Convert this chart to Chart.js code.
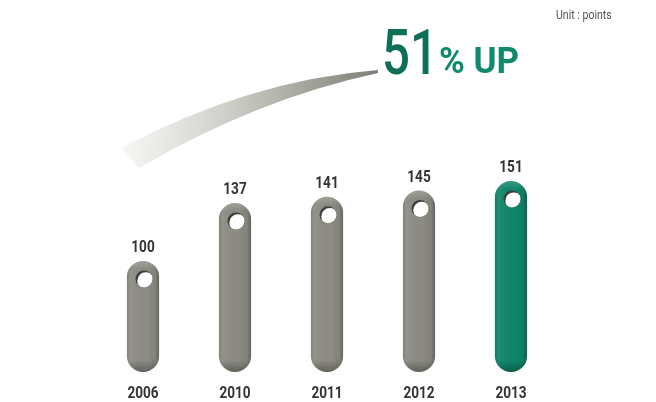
<!DOCTYPE html>
<html>
<head>
<meta charset="utf-8">
<script src="https://cdn.jsdelivr.net/npm/chart.js@4.4.1/dist/chart.umd.min.js"></script>
<style>
  html, body { margin: 0; padding: 0; background: #fff; }
  #wrap { position: relative; width: 656px; height: 402px; overflow: hidden; }
  #myChart { position: absolute; left: 0; top: 0; }
  .narrow { font-family: Roboto, 'Liberation Sans', sans-serif; transform-origin: 0 0; white-space: nowrap; line-height: 1; }
  #unit { position: absolute; left: 556px; top: 9px; font-size: 12px; color: #555; transform: scaleX(0.88); }
  #big { position: absolute; left: 382px; top: 21px; font-size: 63px; font-weight: 500; color: #0d6f58; transform: scaleX(0.78); }
  #small { position: absolute; left: 439px; top: 43px; font-size: 36px; font-weight: bold; color: #108a6d; transform: scaleX(0.97); }
</style>
</head>
<body>
<div id="wrap">
  <canvas id="myChart" width="656" height="402"></canvas>
  <div id="unit" class="narrow">Unit : points</div>
  <div id="big" class="narrow">51</div>
  <div id="small" class="narrow">% UP</div>
</div>
<script>
const years = ['2006', '2010', '2011', '2012', '2013'];
const points = [100, 137, 141, 145, 151];
const barColors = ['#8d8c84', '#8d8c84', '#8d8c84', '#8d8c84', '#10876c'];
const yMin = 29;
const yMax = 160;

const labelFont = "bold 17px Roboto, 'Liberation Sans', sans-serif";

// draw condensed text (no narrow font installed, so squeeze it)
function narrowText(ctx, text, x, y) {
    ctx.save();
    ctx.translate(x, y);
    ctx.scale(0.8, 1);
    ctx.fillText(text, 0, 0);
    ctx.restore();
}

// curved swoosh behind the "51% UP" text
const swooshPlugin = {
    id: 'swoosh',
    beforeDraw(chart) {
        const ctx = chart.ctx;
        ctx.save();
        const g = ctx.createLinearGradient(120, 0, 378, 0);
        g.addColorStop(0, 'rgba(245,245,243,0.8)');
        g.addColorStop(0.45, '#cacac4');
        g.addColorStop(1, '#7f7f76');
        ctx.fillStyle = g;
        ctx.beginPath();
        ctx.moveTo(121, 148);
        ctx.quadraticCurveTo(250, 80, 378, 70);
        ctx.lineTo(378, 73);
        ctx.quadraticCurveTo(257, 99, 139, 168);
        ctx.closePath();
        ctx.fill();
        ctx.restore();
    }
};

// bevel shading, hole, value label and year label for each bar
const barDecor = {
    id: 'barDecor',
    afterDatasetsDraw(chart) {
        const ctx = chart.ctx;
        const meta = chart.getDatasetMeta(0);
        const xScale = chart.scales.x;
        meta.data.forEach((bar, i) => {
            const w = bar.width;
            const left = bar.x - w / 2;
            const top = bar.y;
            const bottom = bar.base;
            const r = w / 2;

            ctx.save();
            ctx.beginPath();
            ctx.roundRect(left, top, w, bottom - top, r);
            ctx.clip();

            const hg = ctx.createLinearGradient(left, 0, left + w, 0);
            hg.addColorStop(0, 'rgba(0,0,0,0.08)');
            hg.addColorStop(0.12, 'rgba(255,255,255,0.06)');
            hg.addColorStop(0.6, 'rgba(0,0,0,0)');
            hg.addColorStop(0.88, 'rgba(0,0,0,0.08)');
            hg.addColorStop(1, 'rgba(0,0,0,0.3)');
            ctx.fillStyle = hg;
            ctx.fillRect(left, top, w, bottom - top);

            const vg = ctx.createLinearGradient(0, bottom - 12, 0, bottom);
            vg.addColorStop(0, 'rgba(0,0,0,0)');
            vg.addColorStop(1, 'rgba(0,0,0,0.3)');
            ctx.fillStyle = vg;
            ctx.fillRect(left, bottom - 12, w, 12);

            const tg = ctx.createLinearGradient(0, top, 0, top + 8);
            tg.addColorStop(0, 'rgba(255,255,255,0.18)');
            tg.addColorStop(1, 'rgba(255,255,255,0)');
            ctx.fillStyle = tg;
            ctx.fillRect(left, top, w, 8);

            // hole
            const cx = bar.x + 1;
            const cy = top + 18;
            ctx.beginPath();
            ctx.arc(cx, cy, 8.5, 0, Math.PI * 2);
            ctx.fillStyle = '#3f3f3a';
            ctx.fill();
            ctx.clip();
            ctx.beginPath();
            ctx.arc(cx + 1.8, cy + 1.8, 8.5, 0, Math.PI * 2);
            ctx.fillStyle = '#ffffff';
            ctx.fill();
            ctx.restore();

            ctx.save();
            ctx.font = labelFont;
            ctx.fillStyle = '#333';
            ctx.textAlign = 'center';
            ctx.textBaseline = 'middle';
            narrowText(ctx, String(points[i]), bar.x, top - 13);
            narrowText(ctx, years[i], xScale.getPixelForValue(i), 394);
            ctx.restore();
        });
    }
};

const ctx = document.getElementById('myChart').getContext('2d');
const myChart = new Chart(ctx, {
    type: 'bar',
    data: {
        labels: years,
        datasets: [{
            data: points,
            base: yMin,
            backgroundColor: barColors,
            borderRadius: 16,
            borderSkipped: false,
            barPercentage: 0.35,
            categoryPercentage: 1
        }]
    },
    options: {
        responsive: false,
        animation: false,
        layout: { padding: { left: 97, right: 99, top: 167, bottom: 30 } },
        plugins: {
            legend: { display: false },
            tooltip: { enabled: false }
        },
        scales: {
            x: { display: false },
            y: { display: false, min: yMin, max: yMax }
        }
    },
    plugins: [swooshPlugin, barDecor]
});
</script>
</body>
</html>
